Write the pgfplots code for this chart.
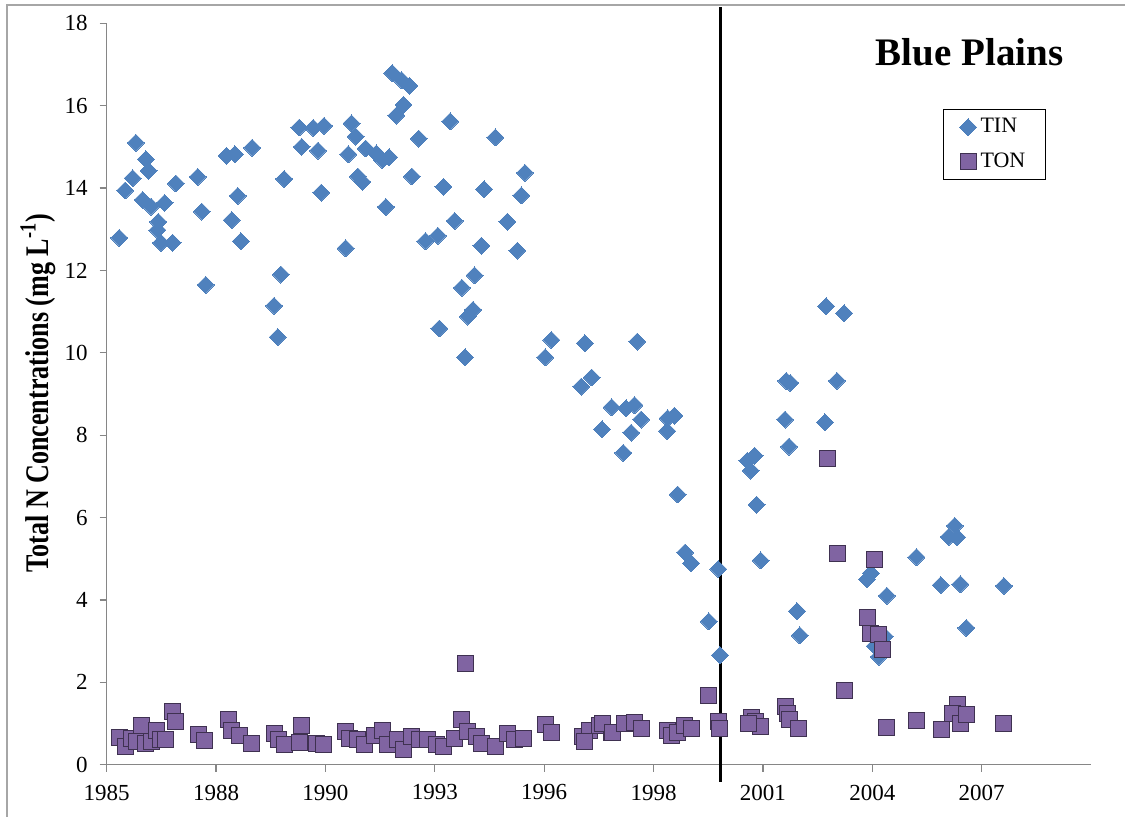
\documentclass[border=0pt]{standalone}
\usepackage{fontspec}
\setmainfont{Liberation Serif}
\usepackage{graphicx}
\usepackage{pgfplots}
\pgfplotsset{compat=1.18}
\definecolor{tinblue}{HTML}{4F81BD}
\definecolor{tonfill}{HTML}{8064A2}
\definecolor{tonedge}{HTML}{3F3151}
\definecolor{axgray}{HTML}{868686}
\definecolor{framegray}{HTML}{A6A6A6}
\begin{document}
\begin{tikzpicture}
\begin{axis}[
  at={(53.35pt,26.15pt)}, anchor=south west,
  scale only axis, width=492.15pt, height=370.7pt,
  xmin=1985.2, xmax=2009.84, ymin=0, ymax=18,
  axis lines*=left,
  axis line style={color=axgray, line width=0.6pt},
  tick style={color=axgray, line width=0.6pt},
  tick align=outside, major tick length=3.5pt,
  xtick={1985.2,1987.938,1990.676,1993.414,1996.152,1998.89,2001.628,2004.366,2007.104},
  xticklabels={1985,1988,1990,1993,1996,1998,2001,2004,2007},
  ytick={0,2,...,18},
  /pgf/number format/assume math mode=true,
  ticklabel style={font=\fontsize{11.5}{13}\selectfont},
  xticklabel style={yshift=-3pt},
  yticklabel style={xshift=-2.5pt},
  clip=false,
  ylabel={\scalebox{0.79}[1]{\textbf{Total N Concentrations (mg L\textsuperscript{-1})}}},
  every axis y label/.style={at={(axis description cs:-0.0698,0.501)}, rotate=90, anchor=center, font=\fontsize{16.5}{18}\selectfont},
  legend style={at={(rel axis cs:0.8497,0.8844)}, anchor=north west, draw=black, line width=0.5pt,
    font=\fontsize{11}{13}\selectfont, inner xsep=8pt, inner ysep=2.5pt, row sep=4.5pt},
  legend cell align=left,
]
\addplot[only marks, mark=square*, mark size=3pt, mark options={rotate=45, fill=tinblue, draw=tinblue, line width=0pt}] table {
x y
1985.515 12.79
1985.66 13.94
1985.85 14.24
1985.93 15.10
1986.10 13.71
1986.18 14.70
1986.25 14.42
1986.31 13.55
1986.49 13.18
1986.47 12.98
1986.56 12.67
1986.65 13.64
1986.85 12.67
1986.93 14.11
1987.48 14.27
1987.58 13.43
1987.68 11.65
1988.20 14.78
1988.41 14.82
1988.33 13.22
1988.48 13.81
1988.56 12.71
1988.84 14.98
1989.39 11.14
1989.48 10.38
1989.56 11.90
1989.64 14.22
1990.02 15.47
1990.08 15.00
1990.37 15.46
1990.64 15.51
1990.49 14.91
1990.57 13.89
1991.18 12.54
1991.33 15.57
1991.43 15.25
1991.25 14.82
1991.49 14.28
1991.60 14.15
1991.68 14.96
1991.95 14.84
1992.10 14.68
1992.27 14.75
1992.19 13.54
1992.35 16.79
1992.58 16.62
1992.78 16.48
1992.63 16.02
1992.45 15.76
1993.01 15.20
1992.84 14.28
1993.53 10.59
1993.18 12.71
1993.49 12.84
1993.63 14.03
1993.80 15.62
1994.93 15.23
1994.65 13.97
1995.67 14.37
1995.58 13.82
1993.91 13.20
1995.23 13.18
1994.58 12.60
1995.48 12.48
1994.41 11.88
1994.09 11.58
1994.37 11.04
1994.24 10.88
1994.17 9.89
1996.33 10.31
1997.17 10.23
1998.48 10.27
1996.18 9.89
1997.34 9.40
1997.08 9.18
1997.84 8.68
1998.20 8.65
1998.41 8.73
1998.58 8.38
1997.60 8.14
1998.33 8.06
1998.13 7.57
1999.24 8.41
1999.41 8.47
1999.23 8.10
1999.49 6.56
1999.68 5.15
1999.83 4.89
2000.27 3.48
2000.51 4.75
2000.55 2.66
2001.24 7.38
2001.42 7.50
2001.32 7.14
2001.47 6.31
2001.57 4.96
2002.18 8.38
2002.28 7.72
2003.18 8.31
2002.48 3.73
2002.55 3.14
2004.33 4.65
2004.23 4.50
2004.73 4.10
2004.53 2.62
2004.68 3.11
2004.43 2.88
2005.47 5.04
2006.08 4.36
2006.43 5.80
2006.28 5.53
2006.49 5.52
2006.57 4.38
2006.72 3.32
2007.66 4.34
2002.21 9.32
2002.31 9.27
2003.21 11.13
2003.66 10.96
2003.48 9.32
};
\addlegendentry{TIN}
\addplot[only marks, mark=square*, mark size=4pt, mark options={fill=tonfill, draw=tonedge, line width=0.5pt}] table {
x y
1985.51 0.66
1985.66 0.45
1985.83 0.64
1986.08 0.96
1985.95 0.56
1986.16 0.52
1986.33 0.56
1986.45 0.84
1986.55 0.62
1986.66 0.62
1986.85 1.30
1986.93 1.06
1987.49 0.74
1987.66 0.58
1988.24 1.09
1988.33 0.84
1988.53 0.72
1988.83 0.52
1989.41 0.76
1989.49 0.60
1989.66 0.48
1990.08 0.94
1990.02 0.53
1990.45 0.52
1990.62 0.50
1991.18 0.80
1991.28 0.64
1991.49 0.60
1991.66 0.50
1991.91 0.72
1992.10 0.84
1992.24 0.50
1992.49 0.60
1992.62 0.36
1992.83 0.68
1993.03 0.60
1993.24 0.60
1993.45 0.48
1993.62 0.45
1993.91 0.64
1994.08 1.10
1994.17 2.46
1994.24 0.80
1994.45 0.68
1994.58 0.52
1994.93 0.45
1995.24 0.75
1995.41 0.62
1995.64 0.64
1996.18 0.98
1996.33 0.78
1997.12 0.68
1997.28 0.84
1997.16 0.56
1997.53 0.96
1997.83 0.78
1997.62 1.00
1997.85 0.78
1998.16 1.00
1998.41 1.02
1998.58 0.88
1999.24 0.84
1999.33 0.72
1999.49 0.78
1999.66 0.96
1999.83 0.88
2000.26 1.69
2000.51 1.04
2000.55 0.88
2001.33 1.15
2001.45 1.04
2001.56 0.92
2001.27 1.00
2002.18 1.41
2002.24 1.25
2002.28 1.09
2002.53 0.88
2003.25 7.43
2003.50 5.12
2004.43 4.99
2004.24 3.58
2004.33 3.19
2004.53 3.15
2004.62 2.80
2003.68 1.81
2004.73 0.91
2005.48 1.07
2006.09 0.86
2006.49 1.45
2006.37 1.25
2006.58 1.00
2006.72 1.23
2007.66 1.00
};
\addlegendentry{TON}
\draw[black, line width=1.7pt] (axis cs:2000.56,-0.42) -- (axis cs:2000.56,18.4);
\node[font=\fontsize{19.5}{22}\selectfont\bfseries] at (rel axis cs:0.8766,0.9606) {Blue Plains};
\end{axis}
\draw[framegray, line width=1pt] (3.5pt,0pt) -- (3.5pt,406pt) -- (562.5pt,406pt);
\pgfresetboundingbox
\useasboundingbox (0pt,0pt) rectangle (562.5pt,408.5pt);
\end{tikzpicture}
\end{document}
